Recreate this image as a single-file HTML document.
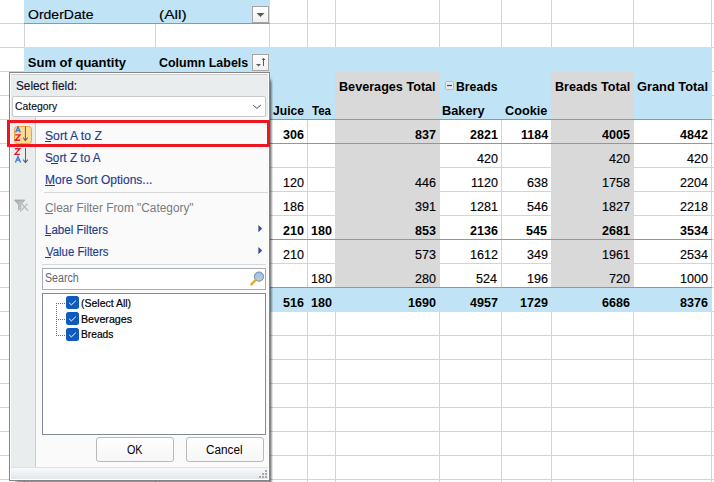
<!DOCTYPE html>
<html><head><meta charset="utf-8"><style>
html,body{margin:0;padding:0;}
body{width:714px;height:482px;overflow:hidden;position:relative;background:#fff;font-family:"Liberation Sans",sans-serif;}
.t{position:absolute;white-space:pre;}
</style></head><body>
<div style="position:absolute;left:24px;top:0px;width:1px;height:482px;background:#d4d4d4"></div><div style="position:absolute;left:155px;top:0px;width:1px;height:482px;background:#d4d4d4"></div><div style="position:absolute;left:269px;top:0px;width:1px;height:482px;background:#d4d4d4"></div><div style="position:absolute;left:307px;top:0px;width:1px;height:482px;background:#d4d4d4"></div><div style="position:absolute;left:335px;top:0px;width:1px;height:482px;background:#d4d4d4"></div><div style="position:absolute;left:439px;top:0px;width:1px;height:482px;background:#d4d4d4"></div><div style="position:absolute;left:501px;top:0px;width:1px;height:482px;background:#d4d4d4"></div><div style="position:absolute;left:551px;top:0px;width:1px;height:482px;background:#d4d4d4"></div><div style="position:absolute;left:633px;top:0px;width:1px;height:482px;background:#d4d4d4"></div><div style="position:absolute;left:711px;top:0px;width:1px;height:482px;background:#d4d4d4"></div><div style="position:absolute;left:0px;top:23px;width:714px;height:1px;background:#d4d4d4"></div><div style="position:absolute;left:0px;top:47px;width:714px;height:1px;background:#d4d4d4"></div><div style="position:absolute;left:0px;top:71px;width:714px;height:1px;background:#d4d4d4"></div><div style="position:absolute;left:0px;top:95px;width:714px;height:1px;background:#d4d4d4"></div><div style="position:absolute;left:0px;top:119px;width:714px;height:1px;background:#d4d4d4"></div><div style="position:absolute;left:0px;top:143px;width:714px;height:1px;background:#d4d4d4"></div><div style="position:absolute;left:0px;top:167px;width:714px;height:1px;background:#d4d4d4"></div><div style="position:absolute;left:0px;top:191px;width:714px;height:1px;background:#d4d4d4"></div><div style="position:absolute;left:0px;top:215px;width:714px;height:1px;background:#d4d4d4"></div><div style="position:absolute;left:0px;top:239px;width:714px;height:1px;background:#d4d4d4"></div><div style="position:absolute;left:0px;top:263px;width:714px;height:1px;background:#d4d4d4"></div><div style="position:absolute;left:0px;top:287px;width:714px;height:1px;background:#d4d4d4"></div><div style="position:absolute;left:0px;top:311px;width:714px;height:1px;background:#d4d4d4"></div><div style="position:absolute;left:0px;top:335px;width:714px;height:1px;background:#d4d4d4"></div><div style="position:absolute;left:0px;top:359px;width:714px;height:1px;background:#d4d4d4"></div><div style="position:absolute;left:0px;top:383px;width:714px;height:1px;background:#d4d4d4"></div><div style="position:absolute;left:0px;top:407px;width:714px;height:1px;background:#d4d4d4"></div><div style="position:absolute;left:0px;top:431px;width:714px;height:1px;background:#d4d4d4"></div><div style="position:absolute;left:0px;top:455px;width:714px;height:1px;background:#d4d4d4"></div><div style="position:absolute;left:0px;top:479px;width:714px;height:1px;background:#d4d4d4"></div><div style="position:absolute;left:24px;top:0px;width:246px;height:23px;background:#c0e4f5"></div><div style="position:absolute;left:24px;top:23px;width:246px;height:1px;background:#45b0e1"></div><div style="position:absolute;left:24px;top:47px;width:688px;height:72px;background:#c0e4f5"></div><div style="position:absolute;left:335px;top:71px;width:105px;height:216px;background:#d9d9d9"></div><div style="position:absolute;left:551px;top:71px;width:83px;height:216px;background:#d9d9d9"></div><div style="position:absolute;left:24px;top:288px;width:688px;height:24px;background:#c0e4f5"></div><div style="position:absolute;left:24px;top:119px;width:688px;height:1px;background:#45b0e1"></div><div style="position:absolute;left:24px;top:143px;width:688px;height:1px;background:#45b0e1"></div><div style="position:absolute;left:24px;top:239px;width:688px;height:1px;background:#45b0e1"></div><div style="position:absolute;left:24px;top:287px;width:688px;height:1px;background:#45b0e1"></div>
<svg width="17" height="17" style="position:absolute;left:252px;top:6px"><defs><linearGradient id="bg1" x1="0" y1="0" x2="0" y2="1"><stop offset="0" stop-color="#ffffff"/><stop offset="1" stop-color="#eef0f3"/></linearGradient></defs><rect x="0.5" y="0.5" width="16" height="16" fill="url(#bg1)" stroke="#a5a5a5"/><path d="M4.5 7 H12.5 L8.5 11 Z" fill="#5a5a5a"/></svg><svg width="17" height="17" style="position:absolute;left:252px;top:54px"><rect x="0.5" y="0.5" width="16" height="16" fill="url(#bg1)" stroke="#a5a5a5"/><path d="M4 10 H9 L6.5 12.5 Z" fill="#5a5a5a"/><path d="M11.5 4.5 V12" stroke="#5a5a5a" stroke-width="1"/><path d="M10.2 6 L11.5 4.2 L12.8 6" fill="none" stroke="#5a5a5a" stroke-width="1"/></svg><svg width="9" height="9" style="position:absolute;left:445px;top:81px"><rect x="0.5" y="0.5" width="8" height="8" rx="1" fill="#e9e9ec" stroke="#b3b9cf"/><path d="M2 4.5 H7" stroke="#3b4b82" stroke-width="1.2"/></svg>
<div class="t" style="left:27.82px;top:7.50px;font-size:13px;line-height:13px;color:#000;transform:scaleX(1.0780);transform-origin:left top;-webkit-text-stroke:0.15px #000;">OrderDate</div><div class="t" style="left:158.60px;top:7.50px;font-size:13px;line-height:13px;color:#000;transform:scaleX(1.2000);transform-origin:left top;-webkit-text-stroke:0.15px #000;">(All)</div><div class="t" style="left:27.80px;top:55.50px;font-size:13px;line-height:13px;font-weight:700;color:#000;">Sum of quantity</div><div class="t" style="left:159.30px;top:55.50px;font-size:13px;line-height:13px;font-weight:700;color:#000;transform:scaleX(0.9570);transform-origin:left top;">Column Labels</div><div class="t" style="left:338.63px;top:79.80px;font-size:13px;line-height:13px;font-weight:700;color:#000;transform:scaleX(0.9714);transform-origin:left top;">Beverages Total</div><div class="t" style="left:456.06px;top:79.80px;font-size:13px;line-height:13px;font-weight:700;color:#000;transform:scaleX(0.9419);transform-origin:left top;">Breads</div><div class="t" style="left:554.53px;top:79.90px;font-size:13px;line-height:13px;font-weight:700;color:#000;transform:scaleX(0.9658);transform-origin:left top;">Breads Total</div><div class="t" style="left:637.30px;top:79.90px;font-size:13px;line-height:13px;font-weight:700;color:#000;transform:scaleX(0.9873);transform-origin:left top;">Grand Total</div><div class="t" style="left:272.50px;top:103.80px;font-size:13px;line-height:13px;font-weight:700;color:#000;transform:scaleX(0.9333);transform-origin:left top;">Juice</div><div class="t" style="left:311.50px;top:103.80px;font-size:13px;line-height:13px;font-weight:700;color:#000;transform:scaleX(0.8864);transform-origin:left top;">Tea</div><div class="t" style="left:442.22px;top:103.50px;font-size:13px;line-height:13px;font-weight:700;color:#000;transform:scaleX(0.9810);transform-origin:left top;">Bakery</div><div class="t" style="left:505.40px;top:103.50px;font-size:13px;line-height:13px;font-weight:700;color:#000;transform:scaleX(0.9767);transform-origin:left top;">Cookie</div><div class="t" style="left:283.44px;top:128.20px;font-size:13px;line-height:13px;font-weight:700;color:#000;transform:scaleX(0.9650);transform-origin:left top;">306</div><div class="t" style="left:415.44px;top:128.20px;font-size:13px;line-height:13px;font-weight:700;color:#000;transform:scaleX(0.9650);transform-origin:left top;">837</div><div class="t" style="left:469.71px;top:128.20px;font-size:13px;line-height:13px;font-weight:700;color:#000;transform:scaleX(0.9650);transform-origin:left top;">2821</div><div class="t" style="left:520.68px;top:128.20px;font-size:13px;line-height:13px;font-weight:700;color:#000;transform:scaleX(0.9650);transform-origin:left top;">1184</div><div class="t" style="left:601.72px;top:128.20px;font-size:13px;line-height:13px;font-weight:700;color:#000;transform:scaleX(0.9650);transform-origin:left top;">4005</div><div class="t" style="left:679.72px;top:128.20px;font-size:13px;line-height:13px;font-weight:700;color:#000;transform:scaleX(0.9650);transform-origin:left top;">4842</div><div class="t" style="left:477.44px;top:152.20px;font-size:13px;line-height:13px;color:#000;transform:scaleX(0.9650);transform-origin:left top;-webkit-text-stroke:0.15px #000;">420</div><div class="t" style="left:609.44px;top:152.20px;font-size:13px;line-height:13px;color:#000;transform:scaleX(0.9650);transform-origin:left top;-webkit-text-stroke:0.15px #000;">420</div><div class="t" style="left:687.44px;top:152.20px;font-size:13px;line-height:13px;color:#000;transform:scaleX(0.9650);transform-origin:left top;-webkit-text-stroke:0.15px #000;">420</div><div class="t" style="left:283.44px;top:176.20px;font-size:13px;line-height:13px;color:#000;transform:scaleX(0.9650);transform-origin:left top;-webkit-text-stroke:0.15px #000;">120</div><div class="t" style="left:415.44px;top:176.20px;font-size:13px;line-height:13px;color:#000;transform:scaleX(0.9650);transform-origin:left top;-webkit-text-stroke:0.15px #000;">446</div><div class="t" style="left:470.68px;top:176.20px;font-size:13px;line-height:13px;color:#000;transform:scaleX(0.9650);transform-origin:left top;-webkit-text-stroke:0.15px #000;">1120</div><div class="t" style="left:527.44px;top:176.20px;font-size:13px;line-height:13px;color:#000;transform:scaleX(0.9650);transform-origin:left top;-webkit-text-stroke:0.15px #000;">638</div><div class="t" style="left:601.72px;top:176.20px;font-size:13px;line-height:13px;color:#000;transform:scaleX(0.9650);transform-origin:left top;-webkit-text-stroke:0.15px #000;">1758</div><div class="t" style="left:679.72px;top:176.20px;font-size:13px;line-height:13px;color:#000;transform:scaleX(0.9650);transform-origin:left top;-webkit-text-stroke:0.15px #000;">2204</div><div class="t" style="left:283.44px;top:200.20px;font-size:13px;line-height:13px;color:#000;transform:scaleX(0.9650);transform-origin:left top;-webkit-text-stroke:0.15px #000;">186</div><div class="t" style="left:415.44px;top:200.20px;font-size:13px;line-height:13px;color:#000;transform:scaleX(0.9650);transform-origin:left top;-webkit-text-stroke:0.15px #000;">391</div><div class="t" style="left:469.71px;top:200.20px;font-size:13px;line-height:13px;color:#000;transform:scaleX(0.9650);transform-origin:left top;-webkit-text-stroke:0.15px #000;">1281</div><div class="t" style="left:527.44px;top:200.20px;font-size:13px;line-height:13px;color:#000;transform:scaleX(0.9650);transform-origin:left top;-webkit-text-stroke:0.15px #000;">546</div><div class="t" style="left:601.72px;top:200.20px;font-size:13px;line-height:13px;color:#000;transform:scaleX(0.9650);transform-origin:left top;-webkit-text-stroke:0.15px #000;">1827</div><div class="t" style="left:679.72px;top:200.20px;font-size:13px;line-height:13px;color:#000;transform:scaleX(0.9650);transform-origin:left top;-webkit-text-stroke:0.15px #000;">2218</div><div class="t" style="left:283.44px;top:224.20px;font-size:13px;line-height:13px;font-weight:700;color:#000;transform:scaleX(0.9650);transform-origin:left top;">210</div><div class="t" style="left:311.44px;top:224.20px;font-size:13px;line-height:13px;font-weight:700;color:#000;transform:scaleX(0.9650);transform-origin:left top;">180</div><div class="t" style="left:415.44px;top:224.20px;font-size:13px;line-height:13px;font-weight:700;color:#000;transform:scaleX(0.9650);transform-origin:left top;">853</div><div class="t" style="left:469.71px;top:224.20px;font-size:13px;line-height:13px;font-weight:700;color:#000;transform:scaleX(0.9650);transform-origin:left top;">2136</div><div class="t" style="left:526.47px;top:224.20px;font-size:13px;line-height:13px;font-weight:700;color:#000;transform:scaleX(0.9650);transform-origin:left top;">545</div><div class="t" style="left:601.72px;top:224.20px;font-size:13px;line-height:13px;font-weight:700;color:#000;transform:scaleX(0.9650);transform-origin:left top;">2681</div><div class="t" style="left:679.72px;top:224.20px;font-size:13px;line-height:13px;font-weight:700;color:#000;transform:scaleX(0.9650);transform-origin:left top;">3534</div><div class="t" style="left:283.44px;top:248.20px;font-size:13px;line-height:13px;color:#000;transform:scaleX(0.9650);transform-origin:left top;-webkit-text-stroke:0.15px #000;">210</div><div class="t" style="left:415.44px;top:248.20px;font-size:13px;line-height:13px;color:#000;transform:scaleX(0.9650);transform-origin:left top;-webkit-text-stroke:0.15px #000;">573</div><div class="t" style="left:469.71px;top:248.20px;font-size:13px;line-height:13px;color:#000;transform:scaleX(0.9650);transform-origin:left top;-webkit-text-stroke:0.15px #000;">1612</div><div class="t" style="left:527.44px;top:248.20px;font-size:13px;line-height:13px;color:#000;transform:scaleX(0.9650);transform-origin:left top;-webkit-text-stroke:0.15px #000;">349</div><div class="t" style="left:601.72px;top:248.20px;font-size:13px;line-height:13px;color:#000;transform:scaleX(0.9650);transform-origin:left top;-webkit-text-stroke:0.15px #000;">1961</div><div class="t" style="left:679.72px;top:248.20px;font-size:13px;line-height:13px;color:#000;transform:scaleX(0.9650);transform-origin:left top;-webkit-text-stroke:0.15px #000;">2534</div><div class="t" style="left:311.44px;top:272.20px;font-size:13px;line-height:13px;color:#000;transform:scaleX(0.9650);transform-origin:left top;-webkit-text-stroke:0.15px #000;">180</div><div class="t" style="left:415.44px;top:272.20px;font-size:13px;line-height:13px;color:#000;transform:scaleX(0.9650);transform-origin:left top;-webkit-text-stroke:0.15px #000;">280</div><div class="t" style="left:476.47px;top:272.20px;font-size:13px;line-height:13px;color:#000;transform:scaleX(0.9650);transform-origin:left top;-webkit-text-stroke:0.15px #000;">524</div><div class="t" style="left:527.44px;top:272.20px;font-size:13px;line-height:13px;color:#000;transform:scaleX(0.9650);transform-origin:left top;-webkit-text-stroke:0.15px #000;">196</div><div class="t" style="left:609.44px;top:272.20px;font-size:13px;line-height:13px;color:#000;transform:scaleX(0.9650);transform-origin:left top;-webkit-text-stroke:0.15px #000;">720</div><div class="t" style="left:679.72px;top:272.20px;font-size:13px;line-height:13px;color:#000;transform:scaleX(0.9650);transform-origin:left top;-webkit-text-stroke:0.15px #000;">1000</div><div class="t" style="left:283.44px;top:296.20px;font-size:13px;line-height:13px;font-weight:700;color:#000;transform:scaleX(0.9650);transform-origin:left top;">516</div><div class="t" style="left:311.44px;top:296.20px;font-size:13px;line-height:13px;font-weight:700;color:#000;transform:scaleX(0.9650);transform-origin:left top;">180</div><div class="t" style="left:407.71px;top:296.20px;font-size:13px;line-height:13px;font-weight:700;color:#000;transform:scaleX(0.9650);transform-origin:left top;">1690</div><div class="t" style="left:469.71px;top:296.20px;font-size:13px;line-height:13px;font-weight:700;color:#000;transform:scaleX(0.9650);transform-origin:left top;">4957</div><div class="t" style="left:519.72px;top:296.20px;font-size:13px;line-height:13px;font-weight:700;color:#000;transform:scaleX(0.9650);transform-origin:left top;">1729</div><div class="t" style="left:601.72px;top:296.20px;font-size:13px;line-height:13px;font-weight:700;color:#000;transform:scaleX(0.9650);transform-origin:left top;">6686</div><div class="t" style="left:679.72px;top:296.20px;font-size:13px;line-height:13px;font-weight:700;color:#000;transform:scaleX(0.9650);transform-origin:left top;">8376</div>
<div style="position:absolute;left:270px;top:77px;width:1px;height:405px;background:linear-gradient(rgba(0,0,0,0),rgba(0,0,0,.46) 6px)"></div><div style="position:absolute;left:271px;top:77px;width:1px;height:405px;background:linear-gradient(rgba(0,0,0,0),rgba(0,0,0,.28) 6px)"></div><div style="position:absolute;left:272px;top:77px;width:1px;height:405px;background:linear-gradient(rgba(0,0,0,0),rgba(0,0,0,.11) 6px)"></div><div style="position:absolute;left:13px;top:481px;width:257px;height:1px;background:linear-gradient(to right,rgba(0,0,0,0),rgba(0,0,0,.42) 6px)"></div><div style="position:absolute;left:9px;top:72px;width:261px;height:409px;background:#858585"></div><div style="position:absolute;left:10px;top:73px;width:259px;height:407px;background:#ffffff"></div><div style="position:absolute;left:11px;top:74px;width:257px;height:405px;background:#e9eded"></div><div style="position:absolute;left:11px;top:74px;width:257px;height:1px;background:#ccd0d0"></div><div style="position:absolute;left:12px;top:96px;width:254px;height:21px;background:#fff;border:1px solid #c8c8c8;box-sizing:border-box;border-radius:2px"></div><svg width="10" height="6" style="position:absolute;left:253px;top:104px"><path d="M0.2 1.2 L3.9 4.4 L7.9 1.0" fill="none" stroke="#4a4a4a" stroke-width="1"/></svg><div style="position:absolute;left:36px;top:117px;width:232px;height:350px;background:#fafafa"></div><div style="position:absolute;left:35px;top:117px;width:1px;height:350px;background:#c9cdcd"></div><div style="position:absolute;left:11px;top:467px;width:257px;height:12px;background:linear-gradient(#f8f9fa,#e3e8ed);border-top:1px solid #dbe3e8;box-sizing:border-box"></div><svg width="10" height="10" style="position:absolute;left:259px;top:470px"><rect x="6" y="0" width="2" height="2" fill="#a9a9a9"/><rect x="3" y="3" width="2" height="2" fill="#a9a9a9"/><rect x="6" y="3" width="2" height="2" fill="#a9a9a9"/><rect x="0" y="6" width="2" height="2" fill="#a9a9a9"/><rect x="3" y="6" width="2" height="2" fill="#a9a9a9"/><rect x="6" y="6" width="2" height="2" fill="#a9a9a9"/></svg><div style="position:absolute;left:44px;top:192px;width:224px;height:1px;background:#d7d7d7"></div><div style="position:absolute;left:42px;top:264px;width:224px;height:1px;background:#d7d7d7"></div><div style="position:absolute;left:7px;top:120px;width:263px;height:27px;border:3px solid #ec1520;box-sizing:border-box"></div><svg width="18" height="18" style="position:absolute;left:14px;top:126px"><rect x="0.5" y="0.5" width="17" height="17" rx="3" fill="#fddd95" stroke="#f0a236"/>
<path d="M1.6 6.6 L4 0.8 L6.4 6.6 M2.6 4.6 H5.4" fill="none" stroke="#3a7bd5" stroke-width="1.3"/>
<path d="M1.2 8.9 H6 L1.4 14.2 H6.2" fill="none" stroke="#e8192c" stroke-width="1.35"/>
<path d="M11.4 0.5 V14.5" stroke="#606066" stroke-width="1"/><path d="M9.2 11.6 L11.4 14.6 L13.6 11.6" fill="none" stroke="#606066" stroke-width="1.1"/></svg><svg width="18" height="18" style="position:absolute;left:14px;top:147px">
<path d="M0.8 1.7 H5.8 L1 7.3 H6" fill="none" stroke="#e8192c" stroke-width="1.35"/>
<path d="M1.4 15.5 L4 9.4 L6.6 15.5 M2.5 13.2 H5.5" fill="none" stroke="#3a7bd5" stroke-width="1.3"/>
<path d="M11.5 1 V15.5" stroke="#606066" stroke-width="1"/><path d="M9.2 12.6 L11.5 15.6 L13.8 12.6" fill="none" stroke="#606066" stroke-width="1.1"/></svg><svg width="18" height="16" style="position:absolute;left:13px;top:198px"><defs><linearGradient id="fg" x1="0" y1="0" x2="1" y2="1"><stop offset="0" stop-color="#a8a8a8"/><stop offset="1" stop-color="#dcdcdc"/></linearGradient></defs>
<path d="M1.5 2 H11.8 L7.8 6.8 V10.8 L5.6 12 V6.8 Z" fill="url(#fg)" stroke="#a0a0a0" stroke-width=".7"/>
<path d="M9.2 6.2 L15 12.8 M14.6 5.6 L7.2 13.6" stroke="#b8b8b8" stroke-width="1.3"/></svg><svg width="5" height="8" style="position:absolute;left:258px;top:225px"><path d="M0.4 0 L4.2 3.6 L0.4 7.2 Z" fill="#3b4c9c"/></svg><svg width="5" height="8" style="position:absolute;left:258px;top:247px"><path d="M0.4 0 L4.2 3.6 L0.4 7.2 Z" fill="#3b4c9c"/></svg><div style="position:absolute;left:45px;top:141px;width:6px;height:1px;background:#1f3d8c"></div><div style="position:absolute;left:51px;top:163px;width:7px;height:1px;background:#1f3d8c"></div><div style="position:absolute;left:45px;top:185px;width:10px;height:1px;background:#1f3d8c"></div><div style="position:absolute;left:45px;top:213px;width:8px;height:1px;background:#7a7a7a"></div><div style="position:absolute;left:45px;top:235px;width:6px;height:1px;background:#1f3d8c"></div><div style="position:absolute;left:45px;top:257px;width:6px;height:1px;background:#1f3d8c"></div><div style="position:absolute;left:42px;top:268px;width:224px;height:22px;background:#fff;border:1px solid #a7adb6;box-sizing:border-box"></div><svg width="16" height="18" style="position:absolute;left:249px;top:270px">
<defs><linearGradient id="lg" x1="0" y1="0" x2="0" y2="1"><stop offset="0" stop-color="#8ec3f0"/><stop offset=".5" stop-color="#a9c6e0"/><stop offset="1" stop-color="#c9c9c9"/></linearGradient></defs>
<circle cx="10" cy="6.6" r="4.6" fill="url(#lg)" stroke="#6f8aa8" stroke-width="1"/>
<path d="M6.6 10 L2.4 14.4" stroke="#e5a72a" stroke-width="2.4" stroke-linecap="round"/></svg><div style="position:absolute;left:42px;top:293px;width:224px;height:142px;background:#fff;border:1px solid #828a98;box-sizing:border-box"></div><svg width="714" height="482" style="position:absolute;left:0;top:0"><rect x="56" y="303" width="1" height="1" fill="#6e6e6e"/><rect x="56" y="305" width="1" height="1" fill="#6e6e6e"/><rect x="56" y="307" width="1" height="1" fill="#6e6e6e"/><rect x="56" y="309" width="1" height="1" fill="#6e6e6e"/><rect x="56" y="311" width="1" height="1" fill="#6e6e6e"/><rect x="56" y="313" width="1" height="1" fill="#6e6e6e"/><rect x="56" y="315" width="1" height="1" fill="#6e6e6e"/><rect x="56" y="317" width="1" height="1" fill="#6e6e6e"/><rect x="56" y="319" width="1" height="1" fill="#6e6e6e"/><rect x="56" y="321" width="1" height="1" fill="#6e6e6e"/><rect x="56" y="323" width="1" height="1" fill="#6e6e6e"/><rect x="56" y="325" width="1" height="1" fill="#6e6e6e"/><rect x="56" y="327" width="1" height="1" fill="#6e6e6e"/><rect x="56" y="329" width="1" height="1" fill="#6e6e6e"/><rect x="56" y="331" width="1" height="1" fill="#6e6e6e"/><rect x="56" y="333" width="1" height="1" fill="#6e6e6e"/><rect x="56" y="335" width="1" height="1" fill="#6e6e6e"/><rect x="58" y="303" width="1" height="1" fill="#6e6e6e"/><rect x="60" y="303" width="1" height="1" fill="#6e6e6e"/><rect x="62" y="303" width="1" height="1" fill="#6e6e6e"/><rect x="64" y="303" width="1" height="1" fill="#6e6e6e"/><rect x="58" y="319" width="1" height="1" fill="#6e6e6e"/><rect x="60" y="319" width="1" height="1" fill="#6e6e6e"/><rect x="62" y="319" width="1" height="1" fill="#6e6e6e"/><rect x="64" y="319" width="1" height="1" fill="#6e6e6e"/><rect x="58" y="335" width="1" height="1" fill="#6e6e6e"/><rect x="60" y="335" width="1" height="1" fill="#6e6e6e"/><rect x="62" y="335" width="1" height="1" fill="#6e6e6e"/><rect x="64" y="335" width="1" height="1" fill="#6e6e6e"/></svg><svg width="13" height="13" style="position:absolute;left:66px;top:296px"><rect x="0" y="0" width="13" height="13" rx="2.5" fill="#0e5bbd"/><path d="M3.2 6.9 L5.4 8.9 L9.9 4.6" fill="none" stroke="#fff" stroke-width="1"/></svg><svg width="13" height="13" style="position:absolute;left:66px;top:312px"><rect x="0" y="0" width="13" height="13" rx="2.5" fill="#0e5bbd"/><path d="M3.2 6.9 L5.4 8.9 L9.9 4.6" fill="none" stroke="#fff" stroke-width="1"/></svg><svg width="13" height="13" style="position:absolute;left:66px;top:328px"><rect x="0" y="0" width="13" height="13" rx="2.5" fill="#0e5bbd"/><path d="M3.2 6.9 L5.4 8.9 L9.9 4.6" fill="none" stroke="#fff" stroke-width="1"/></svg><div style="position:absolute;left:96px;top:437px;width:78px;height:25px;background:linear-gradient(#fefefe,#f6f6f6);border:1px solid #b9b9b9;box-sizing:border-box;border-radius:3px"></div><div style="position:absolute;left:186px;top:437px;width:78px;height:25px;background:linear-gradient(#fefefe,#f6f6f6);border:1px solid #b9b9b9;box-sizing:border-box;border-radius:3px"></div>
<div class="t" style="left:15.62px;top:79.50px;font-size:12px;line-height:12px;color:#10142a;transform:scaleX(0.9833);transform-origin:left top;-webkit-text-stroke:0.15px #10142a;">Select field:</div><div class="t" style="left:15.26px;top:101.30px;font-size:11px;line-height:11px;color:#0a0a20;transform:scaleX(0.9432);transform-origin:left top;-webkit-text-stroke:0.15px #0a0a20;">Category</div><div class="t" style="left:44.89px;top:130.00px;font-size:12px;line-height:12px;color:#1f3d8c;transform:scaleX(1.0145);transform-origin:left top;-webkit-text-stroke:0.15px #1f3d8c;">Sort A to Z</div><div class="t" style="left:45.02px;top:151.80px;font-size:12px;line-height:12px;color:#1f3d8c;transform:scaleX(0.9821);transform-origin:left top;-webkit-text-stroke:0.15px #1f3d8c;">Sort Z to A</div><div class="t" style="left:45.00px;top:173.70px;font-size:12px;line-height:12px;color:#1f3d8c;-webkit-text-stroke:0.15px #1f3d8c;">More Sort Options...</div><div class="t" style="left:44.81px;top:201.50px;font-size:12px;line-height:12px;color:#7a7a7a;transform:scaleX(0.9866);transform-origin:left top;">Clear Filter From &quot;Category&quot;</div><div class="t" style="left:44.84px;top:223.70px;font-size:12px;line-height:12px;color:#1f3d8c;transform:scaleX(0.9625);transform-origin:left top;-webkit-text-stroke:0.15px #1f3d8c;">Label Filters</div><div class="t" style="left:45.80px;top:245.60px;font-size:12px;line-height:12px;color:#1f3d8c;transform:scaleX(0.9477);transform-origin:left top;-webkit-text-stroke:0.15px #1f3d8c;">Value Filters</div><div class="t" style="left:44.91px;top:271.50px;font-size:12px;line-height:12px;color:#5f6675;transform:scaleX(0.8889);transform-origin:left top;">Search</div><div class="t" style="left:80.95px;top:298.00px;font-size:11px;line-height:11px;color:#000;transform:scaleX(0.9529);transform-origin:left top;-webkit-text-stroke:0.2px #000;">(Select All)</div><div class="t" style="left:80.93px;top:313.60px;font-size:11px;line-height:11px;color:#000;transform:scaleX(0.9706);transform-origin:left top;-webkit-text-stroke:0.2px #000;">Beverages</div><div class="t" style="left:80.97px;top:329.30px;font-size:11px;line-height:11px;color:#000;transform:scaleX(0.9294);transform-origin:left top;-webkit-text-stroke:0.2px #000;">Breads</div><div class="t" style="left:126.50px;top:444.00px;font-size:12px;line-height:12px;color:#000;transform:scaleX(0.8941);transform-origin:left top;">OK</div><div class="t" style="left:205.52px;top:444.00px;font-size:12px;line-height:12px;color:#000;transform:scaleX(0.9778);transform-origin:left top;">Cancel</div>
</body></html>
